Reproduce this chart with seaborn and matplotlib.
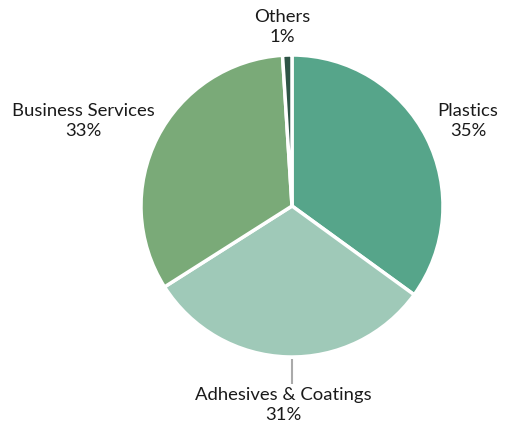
import matplotlib
matplotlib.use("Agg")
import matplotlib.pyplot as plt
import seaborn as sns

sns.set_theme(style="white")
plt.rcParams["font.family"] = ["Lato", "DejaVu Sans"]

# Revenue share by segment
segments = ["Plastics", "Adhesives & Coatings", "Business Services", "Others"]
shares = [35, 31, 33, 1]
colors = ["#56a58a", "#9fc9b8", "#7aaa78", "#2e5446"]

W, H = 507, 428
fig = plt.figure(figsize=(W / 100, H / 100), dpi=100)
ax = fig.add_axes([0, 0, 1, 1])
ax.set_xlim(0, W)
ax.set_ylim(0, H)
ax.set_aspect("equal")
ax.axis("off")

cx, cy, r = 292, H - 206, 151
ax.pie(shares, colors=colors, startangle=90, counterclock=False,
       center=(cx, cy), radius=r,
       wedgeprops=dict(edgecolor="white", linewidth=2.5))
ax.set_xlim(0, W)
ax.set_ylim(0, H)

# label anchors (pixel coordinates, measured from top)
label_pos = {
    "Plastics": (468, 121),
    "Adhesives & Coatings": (283, 405),
    "Business Services": (83, 121),
    "Others": (282, 27),
}
for name, val in zip(segments, shares):
    x, y = label_pos[name]
    ax.text(x, H - y, f"{name}\n{val}%", ha="center", va="center",
            fontsize=13.3, color="#1a1a1a", linespacing=1.32)

# leader line for the bottom label
ax.plot([292, 292], [H - 359, H - 384], color="#aaaaaa", lw=1.5,
        solid_capstyle="butt")

fig.savefig("out.png", dpi=100, facecolor="white")
